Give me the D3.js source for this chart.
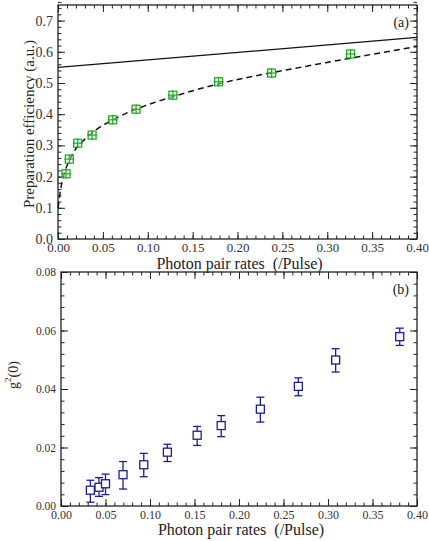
<!DOCTYPE html>
<html>
<head>
<meta charset="utf-8">
<script src="https://cdn.jsdelivr.net/npm/d3@7"></script>
<style>
  body { margin: 0; background: #fff; }
  text { font-family: "Liberation Serif", "Times New Roman", serif; }
</style>
</head>
<body>
<div id="chart"></div>
<script>
// panel (a): preparation efficiency
const rateA = [0.009, 0.0126, 0.022, 0.038, 0.061, 0.087, 0.128, 0.179, 0.238, 0.326];
const effA = [0.209, 0.256, 0.307, 0.333, 0.382, 0.416, 0.461, 0.504, 0.532, 0.593];
// solid line (ideal)
const idealX = [0, 0.4];
const idealY = [0.55, 0.646];
// dashed fit curve
const fitX = [0, 0.003, 0.006, 0.01, 0.015, 0.02, 0.03, 0.04, 0.06, 0.08, 0.1, 0.13, 0.18, 0.24, 0.3, 0.35, 0.4];
const fitY = [0.10, 0.16, 0.20, 0.235, 0.265, 0.29, 0.32, 0.345, 0.38, 0.408, 0.43, 0.458, 0.498, 0.534, 0.566, 0.592, 0.617];

// panel (b): g2(0)
const rateB = [0.033, 0.0427, 0.050, 0.0697, 0.093, 0.1195, 0.153, 0.180, 0.224, 0.2667, 0.3086, 0.3806];
const g2 = [0.0054, 0.0064, 0.0076, 0.0107, 0.0141, 0.0184, 0.0242, 0.0275, 0.0331, 0.0409, 0.0499, 0.0579];
const g2Hi = [0.0088, 0.0097, 0.0109, 0.0152, 0.0180, 0.0211, 0.0272, 0.0309, 0.0372, 0.0438, 0.0538, 0.0608];
const g2Lo = [0.0013, 0.0033, 0.0039, 0.0058, 0.0100, 0.0152, 0.0207, 0.0237, 0.0287, 0.0377, 0.0458, 0.0549];

const xTicks = [0, 0.05, 0.1, 0.15, 0.2, 0.25, 0.3, 0.35, 0.4];
const yTicksA = [0, 0.1, 0.2, 0.3, 0.4, 0.5, 0.6, 0.7];
const yTicksB = [0, 0.02, 0.04, 0.06, 0.08];

const width = 429, height = 541;
const svg = d3.select('#chart').append('svg')
    .attr('width', width)
    .attr('height', height);

function minors(lo, hi, step) {
    const out = [];
    const n = Math.round((hi - lo) / step);
    for (let i = 0; i <= n; i++) out.push(+(lo + i * step).toFixed(6));
    return out;
}

// frame with inward ticks on all four sides
function frame(x, y, opts) {
    const g = svg.append('g');
    const [x0, x1] = x.range();
    const [y0, y1] = y.range();
    const xMinor = minors(0, 0.4, 0.01);
    const yMinor = minors(y.domain()[0], y.domain()[1], opts.yMinorStep);

    const add = (axis, tx, ty) => {
        const a = g.append('g').attr('transform', `translate(${tx},${ty})`).call(axis);
        a.select('.domain').remove();
        a.attr('font-family', null);
        a.selectAll('line').attr('stroke', '#222').attr('stroke-width', 1);
        return a;
    };

    // minor ticks
    add(d3.axisBottom(x).tickValues(xMinor).tickSize(-3.5).tickFormat(''), 0, y0);
    add(d3.axisTop(x).tickValues(xMinor).tickSize(-3.5).tickFormat(''), 0, y1);
    add(d3.axisLeft(y).tickValues(yMinor).tickSize(-3.5).tickFormat(''), x0, 0);
    add(d3.axisRight(y).tickValues(yMinor).tickSize(-3.5).tickFormat(''), x1, 0);

    // major ticks
    const bx = add(d3.axisBottom(x).tickValues(xTicks).tickSize(-7).tickPadding(4)
        .tickFormat(d3.format('.2f')), 0, y0);
    bx.selectAll('text').attr('font-size', opts.xFont).attr('fill', '#333');
    add(d3.axisTop(x).tickValues(xTicks).tickSize(-7).tickFormat(''), 0, y1);
    const ly = add(d3.axisLeft(y).tickValues(opts.yTicks).tickSize(-7).tickPadding(5)
        .tickFormat(d3.format(opts.yFmt)), x0, 0);
    ly.selectAll('text').attr('font-size', opts.yFont).attr('fill', '#333');
    add(d3.axisRight(y).tickValues(opts.yTicks).tickSize(-7).tickFormat(''), x1, 0);

    g.append('rect')
        .attr('x', x0).attr('y', y1)
        .attr('width', x1 - x0).attr('height', y0 - y1)
        .attr('fill', 'none').attr('stroke', '#222').attr('stroke-width', 1.3);

    g.append('text')
        .attr('x', (x0 + x1) / 2 + 2).attr('y', y0 + opts.xTitleDy)
        .attr('text-anchor', 'middle').attr('font-size', 16).attr('fill', '#222')
        .attr('xml:space', 'preserve')
        .text('Photon pair rates  (/Pulse)');

    g.append('text')
        .attr('x', x1 - 8).attr('y', y1 + 22)
        .attr('text-anchor', 'end').attr('font-size', 14).attr('fill', '#222')
        .text(opts.tag);
    return g;
}

// ---------- panel (a)
const xA = d3.scaleLinear().domain([0, 0.4]).range([58, 417]);
const yA = d3.scaleLinear().domain([0, 0.75]).range([239, 5]);

frame(xA, yA, { yTicks: yTicksA, yMinorStep: 0.02, yFmt: '.1f', xFont: 13, yFont: 14, xTitleDy: 30, tag: '(a)' });

svg.append('text')
    .attr('transform', `translate(34,${yA(0.375) + 2}) rotate(-90)`)
    .attr('text-anchor', 'middle').attr('font-size', 15).attr('fill', '#222')
    .text('Preparation efficiency (a.u.)');

const line = d3.line();
svg.append('path')
    .attr('d', line(idealX.map((d, i) => [xA(d), yA(idealY[i])])))
    .attr('fill', 'none').attr('stroke', '#111').attr('stroke-width', 1.3);

svg.append('path')
    .attr('d', d3.line().curve(d3.curveMonotoneX)(fitX.map((d, i) => [xA(d), yA(fitY[i])])))
    .attr('fill', 'none').attr('stroke', '#111').attr('stroke-width', 1.5)
    .attr('stroke-dasharray', '6,4');

const green = '#23a023';
const mA = svg.append('g').selectAll('g')
    .data(rateA.map((d, i) => ({ x: xA(d), y: yA(effA[i]) })))
    .join('g')
    .attr('transform', d => `translate(${d.x},${d.y})`);
mA.append('rect')
    .attr('x', -4).attr('y', -4).attr('width', 8).attr('height', 8)
    .attr('fill', '#c8ecc8').attr('fill-opacity', 0.5)
    .attr('stroke', green).attr('stroke-width', 1.2);
mA.append('line').attr('x1', -5).attr('x2', 5).attr('y1', 0).attr('y2', 0)
    .attr('stroke', green).attr('stroke-width', 1.1);
mA.append('line').attr('x1', 0).attr('x2', 0).attr('y1', -5).attr('y2', 5)
    .attr('stroke', green).attr('stroke-width', 1.1);

// ---------- panel (b)
const xB = d3.scaleLinear().domain([0, 0.4]).range([61, 417]);
const yB = d3.scaleLinear().domain([0, 0.08]).range([506, 272]);

frame(xB, yB, { yTicks: yTicksB, yMinorStep: 0.004, yFmt: '.2f', xFont: 12, yFont: 11.5, xTitleDy: 29, tag: '(b)' });

const gl = svg.append('text')
    .attr('transform', `translate(18,${yB(0.04) - 14}) rotate(-90)`)
    .attr('text-anchor', 'middle').attr('font-size', 14).attr('fill', '#222');
gl.append('tspan').text('g');
gl.append('tspan').attr('font-size', 9).attr('dy', -7).text('2');
gl.append('tspan').attr('dy', 7).text('(0)');

const navy = '#1c1c96';
const mB = svg.append('g').selectAll('g')
    .data(rateB.map((d, i) => ({ x: xB(d), y: yB(g2[i]), hi: yB(g2Hi[i]), lo: yB(g2Lo[i]) })))
    .join('g');
mB.append('line')
    .attr('x1', d => d.x).attr('x2', d => d.x)
    .attr('y1', d => d.hi).attr('y2', d => d.lo)
    .attr('stroke', navy).attr('stroke-width', 1.3);
mB.append('line')
    .attr('x1', d => d.x - 4).attr('x2', d => d.x + 4)
    .attr('y1', d => d.hi).attr('y2', d => d.hi)
    .attr('stroke', navy).attr('stroke-width', 1.3);
mB.append('line')
    .attr('x1', d => d.x - 4).attr('x2', d => d.x + 4)
    .attr('y1', d => d.lo).attr('y2', d => d.lo)
    .attr('stroke', navy).attr('stroke-width', 1.3);
mB.append('rect')
    .attr('x', d => d.x - 4).attr('y', d => d.y - 4)
    .attr('width', 8).attr('height', 8)
    .attr('fill', '#fff').attr('stroke', navy).attr('stroke-width', 1.3);
</script>
</body>
</html>
